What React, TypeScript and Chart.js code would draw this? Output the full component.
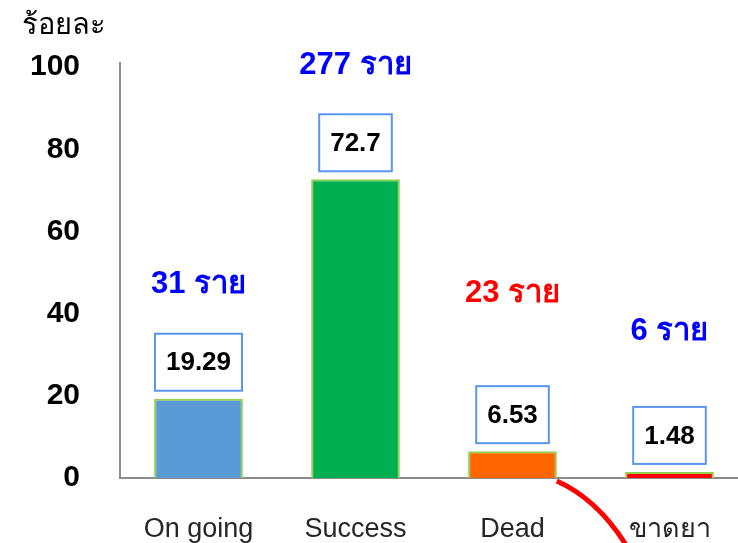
import { useEffect, useRef } from 'react';
import { Chart, registerables } from 'chart.js';

Chart.register(...registerables);

const categories = ['On going', 'Success', 'Dead', 'ขาดยา'];
const percentValues = [19.29, 72.7, 6.53, 1.48];
const barColors = ['#5B9BD5', '#00B050', '#FF6600', '#FF0000'];
const valueLabels = ['19.29', '72.7', '6.53', '1.48'];
const caseLabels = ['31 ราย', '277 ราย', '23 ราย', '6 ราย'];
const caseColors = ['#0000FF', '#0000FF', '#FF0000', '#0000FF'];
const caseLabelLevels = [47, 100.5, 45, 35.6];
const yAxisTitle = 'ร้อยละ';
const yMax = 101;
const yStep = 20;

const FONT = '"Liberation Sans", "Noto Sans", sans-serif';

const annotate = {
  id: 'annotate',
  afterDatasetsDraw(chart: any) {
    const ctx = chart.ctx;
    const yScale = chart.scales.y;
    const meta = chart.getDatasetMeta(0);
    ctx.save();
    ctx.textAlign = 'center';
    ctx.textBaseline = 'middle';
    meta.data.forEach((bar: any, i: number) => {
      const { x, y: top, width } = bar.getProps(['x', 'y', 'width'], true);
      ctx.font = `bold 26px ${FONT}`;
      const tw = ctx.measureText(valueLabels[i]).width;
      const bw = tw + 22;
      const bh = 57;
      const bottom = top - 8;
      ctx.fillStyle = '#FFFFFF';
      ctx.fillRect(x - bw / 2, bottom - bh, bw, bh);
      ctx.strokeStyle = '#5B95F0';
      ctx.lineWidth = 2;
      ctx.strokeRect(x - bw / 2, bottom - bh, bw, bh);
      ctx.fillStyle = '#000000';
      ctx.fillText(valueLabels[i], x, bottom - bh / 2 + 1);

      ctx.font = `bold 31px ${FONT}`;
      ctx.fillStyle = caseColors[i];
      ctx.fillText(caseLabels[i], x, yScale.getPixelForValue(caseLabelLevels[i]));

      if (i === 2) {
        const base = yScale.getPixelForValue(0);
        const sx = x + width / 2;
        ctx.beginPath();
        ctx.moveTo(sx, base + 3);
        ctx.quadraticCurveTo(sx + 42, base + 22, sx + 71, base + 70);
        ctx.strokeStyle = '#FF0000';
        ctx.lineWidth = 5;
        ctx.stroke();
      }
    });
    ctx.font = `29px ${FONT}`;
    ctx.fillStyle = '#000000';
    ctx.textAlign = 'left';
    ctx.fillText(yAxisTitle, 22, 26);
    ctx.restore();
  },
};

export default function App() {
  const ref = useRef<HTMLCanvasElement>(null);
  useEffect(() => {
    if (!ref.current) return;
    const chart = new Chart(ref.current, {
      type: 'bar',
      data: {
        labels: categories,
        datasets: [
          {
            data: percentValues,
            backgroundColor: barColors,
            borderColor: '#92D050',
            borderWidth: 2,
            barPercentage: 0.565,
            categoryPercentage: 1,
          },
        ],
      },
      options: {
        responsive: false,
        animation: false,
        layout: { padding: { top: 63, left: 0, right: 0, bottom: 0 } },
        plugins: { legend: { display: false }, tooltip: { enabled: false } },
        scales: {
          x: {
            grid: { display: false, drawTicks: false },
            border: { color: '#8C8C8C', width: 2 },
            ticks: { color: '#262626', padding: 35, font: { family: FONT, size: 27 } },
            afterFit: (s: any) => {
              s.height = 65;
            },
          },
          y: {
            min: 0,
            max: yMax,
            grid: { display: false, drawTicks: false },
            border: { color: '#8C8C8C', width: 2 },
            ticks: {
              stepSize: yStep,
              includeBounds: false,
              color: '#000000',
              padding: 40,
              font: { family: FONT, size: 30, weight: 'bold' },
            },
            afterFit: (s: any) => {
              s.width = 120;
            },
          },
        },
      },
      plugins: [annotate],
    });
    return () => chart.destroy();
  }, []);
  return (
    <div style={{ position: 'fixed', left: 0, top: 0, width: 738, height: 543, overflow: 'hidden', background: '#fff' }}>
      <canvas ref={ref} width={748} height={543} style={{ display: 'block' }} />
    </div>
  );
}
